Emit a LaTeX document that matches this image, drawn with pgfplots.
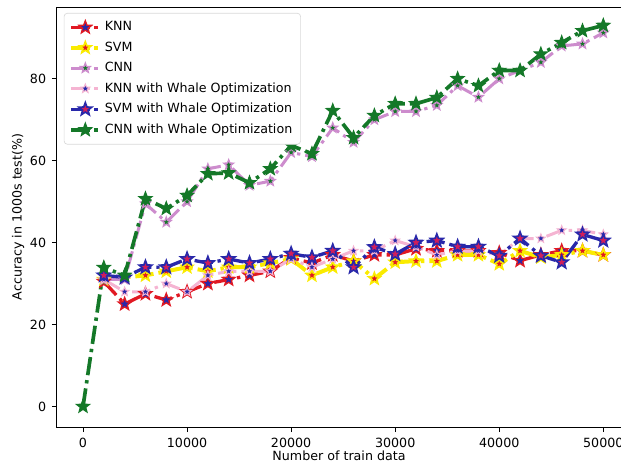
\documentclass[border=0pt]{standalone}
\usepackage{fontspec}
\setmainfont{DejaVu Sans}
\usepackage{pgfplots}
\pgfplotsset{compat=1.18}

% filled five-pointed star, like matplotlib's '*'
\pgfdeclareplotmark{fstar}{%
  \pgfpathmoveto{\pgfpointpolar{90}{\pgfplotmarksize}}%
  \pgfpathlineto{\pgfpointpolar{126}{0.42*\pgfplotmarksize}}%
  \pgfpathlineto{\pgfpointpolar{162}{\pgfplotmarksize}}%
  \pgfpathlineto{\pgfpointpolar{198}{0.42*\pgfplotmarksize}}%
  \pgfpathlineto{\pgfpointpolar{234}{\pgfplotmarksize}}%
  \pgfpathlineto{\pgfpointpolar{270}{0.42*\pgfplotmarksize}}%
  \pgfpathlineto{\pgfpointpolar{306}{\pgfplotmarksize}}%
  \pgfpathlineto{\pgfpointpolar{342}{0.42*\pgfplotmarksize}}%
  \pgfpathlineto{\pgfpointpolar{18}{\pgfplotmarksize}}%
  \pgfpathlineto{\pgfpointpolar{54}{0.42*\pgfplotmarksize}}%
  \pgfpathclose
  \pgfusepathqfillstroke}

\definecolor{knnred}{RGB}{225,25,35}
\definecolor{svmyel}{RGB}{250,235,0}
\definecolor{cnnvio}{RGB}{205,140,205}
\definecolor{knnwpink}{RGB}{245,180,210}
\definecolor{svmwblue}{RGB}{40,40,170}
\definecolor{cnnwgreen}{RGB}{20,120,40}
\definecolor{facemag}{RGB}{210,30,90}

\pgfplotstableread{
x     knn   svm   cnn   knnw  svmw
2000  30.5  31.0  31.0  31.0  32.0
4000  25.0  31.5  31.0  28.0  31.5
6000  27.5  32.0  49.5  28.0  34.0
8000  26.0  33.0  45.0  30.0  34.0
10000 28.0  34.0  50.0  28.0  36.0
12000 30.0  33.0  58.0  32.0  35.0
14000 31.0  34.0  59.0  33.0  36.0
16000 32.0  34.0  54.0  33.0  35.0
18000 33.0  35.0  55.0  33.0  36.0
20000 36.3  36.0  62.0  36.0  37.3
22000 35.0  32.0  61.0  34.0  36.4
24000 37.0  34.0  68.0  36.0  38.0
26000 35.5  35.5  64.5  38.0  34.0
28000 37.0  31.2  70.0  38.0  38.9
30000 37.0  35.2  72.0  40.5  37.2
32000 38.5  35.5  72.0  39.0  40.0
34000 38.0  35.5  73.5  37.0  40.5
36000 38.0  37.0  78.3  38.0  39.0
38000 38.0  37.0  75.5  38.0  39.0
40000 37.5  34.8  80.0  37.0  36.8
42000 35.6  38.0  82.0  41.0  41.0
44000 37.0  36.4  84.0  41.0  36.8
46000 38.0  37.0  88.0  43.0  35.2
48000 38.0  38.0  88.5  43.0  42.0
50000 37.0  37.0  91.2  42.0  40.5
}\lowdata

\pgfplotstableread{
x     cnnw
0     0.0
2000  33.9
4000  32.0
6000  50.7
8000  48.3
10000 51.5
12000 56.8
14000 57.0
16000 54.6
18000 58.0
20000 63.7
22000 61.7
24000 72.2
26000 65.6
28000 71.0
30000 73.9
32000 73.9
34000 75.4
36000 80.0
38000 78.3
40000 82.0
42000 82.0
44000 86.0
46000 88.8
48000 91.7
50000 93.0
}\cnnwdata

\begin{document}
\begin{tikzpicture}
\begin{axis}[
  at={(0,0)}, anchor=south west,
  scale only axis, width=338.4pt, height=252pt,
  xmin=-2500, xmax=51700, ymin=-5, ymax=97.5,
  xtick={0,10000,20000,30000,40000,50000},
  ytick={0,20,40,60,80},
  scaled x ticks=false,
  xticklabel style={/pgf/number format/1000 sep={}},
  /pgf/number format/assume math mode=true,
  tick align=outside, xtick pos=bottom, ytick pos=left,
  major tick length=3pt,
  tick style={black, line width=0.5pt},
  axis line style={line width=0.6pt},
  font=\fontsize{7.6}{9}\selectfont,
  xlabel={Number of train data},
  ylabel={Accuracy in 1000s test(\%)},
  xlabel style={at={(axis description cs:0.5,-0.0694)}, anchor=center},
  ylabel style={at={(axis description cs:-0.0691,0.5)}, anchor=center},
  legend style={at={(0.012,0.986)}, anchor=north west, draw=black!15,
    rounded corners=2pt, fill=white, font=\fontsize{7.6}{9}\selectfont,
    row sep=1.1pt, inner xsep=3pt, inner ysep=3pt},
  legend cell align=left,
  every axis plot/.append style={dash pattern=on 11pt off 3pt on 2pt off 3pt},
]
\addplot[knnred, line width=2pt, mark=fstar, mark size=4pt,
  mark options={solid, draw=knnred, fill=svmwblue, line width=0.8pt}]
  table[x=x, y=knn] {\lowdata};
\addlegendentry{KNN}
\addplot[svmyel, line width=2.4pt, mark=fstar, mark size=3.6pt,
  mark options={solid, draw=svmyel, fill=knnred, line width=1pt}]
  table[x=x, y=svm] {\lowdata};
\addlegendentry{SVM}
\addplot[cnnvio, line width=1.8pt, mark=fstar, mark size=3pt,
  mark options={solid, draw=cnnvio, fill=cnnwgreen, line width=0.8pt}]
  table[x=x, y=cnn] {\lowdata};
\addlegendentry{CNN}
\addplot[knnwpink, line width=1.8pt, mark=fstar, mark size=2.8pt,
  mark options={solid, draw=knnwpink, fill=svmwblue, line width=0.6pt}]
  table[x=x, y=knnw] {\lowdata};
\addlegendentry{KNN with Whale Optimization}
\addplot[svmwblue, line width=2pt, mark=fstar, mark size=4pt,
  mark options={solid, draw=svmwblue, fill=facemag, line width=1pt}]
  table[x=x, y=svmw] {\lowdata};
\addlegendentry{SVM with Whale Optimization}
\addplot[cnnwgreen, line width=2.2pt, mark=fstar, mark size=4.2pt,
  mark options={solid, draw=cnnwgreen, fill=cnnwgreen, line width=0.6pt}]
  table[x=x, y=cnnw] {\cnnwdata};
\addlegendentry{CNN with Whale Optimization}
\end{axis}
\pgfresetboundingbox
\useasboundingbox (-34.2pt,-23.4pt) rectangle (338.4pt,256.2pt);
\end{tikzpicture}
\end{document}
